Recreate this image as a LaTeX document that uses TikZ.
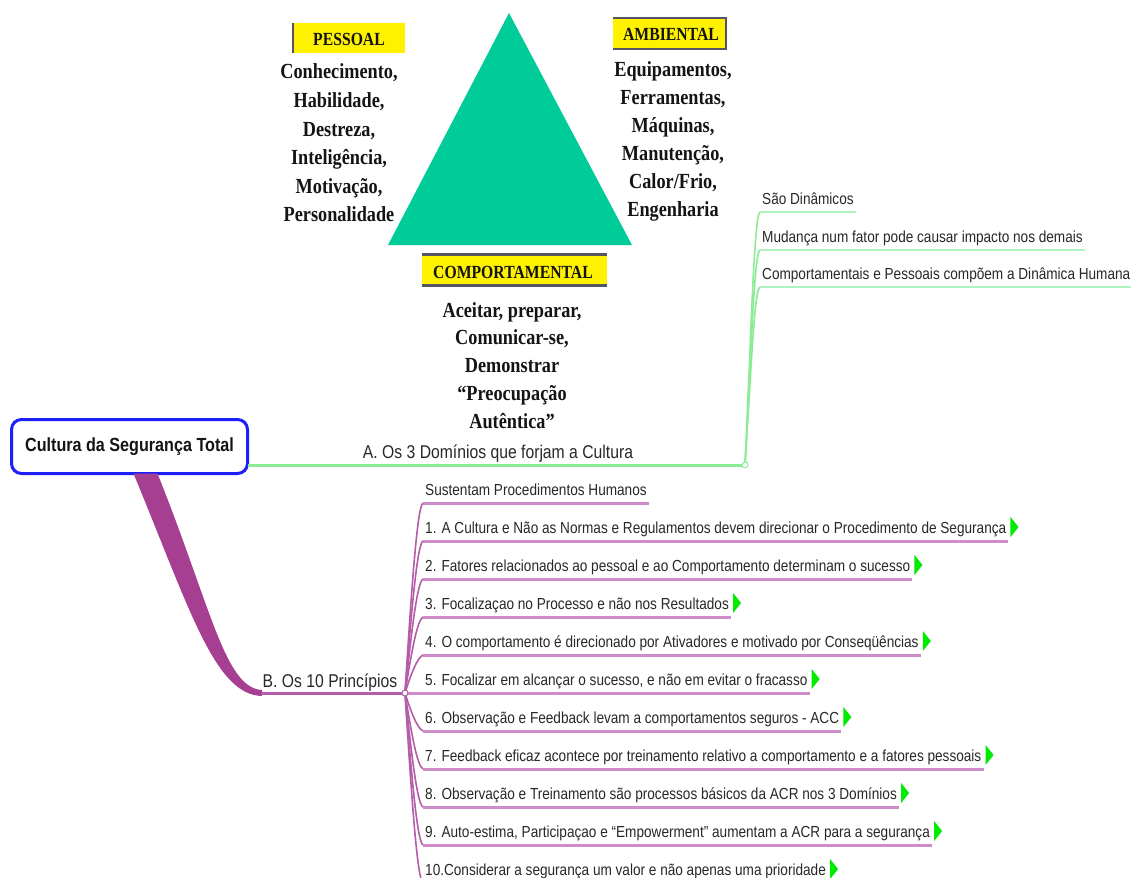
\documentclass[tikz,border=0pt]{standalone}
\usepackage{fontspec}
\newfontfamily\mapfont[FakeStretch=0.85]{Liberation Sans}
\newfontfamily\slidefont[FakeStretch=0.85]{Liberation Serif}
\usetikzlibrary{calc}

\definecolor{tri}{RGB}{0,204,153}
\definecolor{boxgray}{RGB}{85,85,100}
\definecolor{rootblue}{RGB}{30,30,250}
\definecolor{grline}{RGB}{140,236,150}
\definecolor{grsub}{RGB}{176,242,192}
\definecolor{pthick}{RGB}{166,62,146}
\definecolor{pmid}{RGB}{180,92,168}
\definecolor{pline}{RGB}{206,140,200}
\definecolor{tipgreen}{RGB}{0,235,0}
\definecolor{ink}{RGB}{20,20,20}
\definecolor{mapink}{RGB}{40,40,40}

\begin{document}
\begin{tikzpicture}[x=1pt,y=-1pt,
  domtext/.style={font=\slidefont\bfseries\fontsize{21.5}{26}\selectfont,
    inner sep=0pt, anchor=base, text=ink},
  domlabel/.style={font=\slidefont\bfseries\fontsize{18.5}{22}\selectfont,
    inner sep=0pt, anchor=base, text=ink},
  item/.style={font=\mapfont\fontsize{16}{19}\selectfont, text=mapink,
    anchor=south west, inner xsep=2pt, inner ysep=0pt,
    text height=12pt, text depth=7.5pt},
  branchlabel/.style={font=\mapfont\fontsize{18.5}{22}\selectfont,
    text=mapink, anchor=base, inner sep=0pt},
  rootbox/.style={draw=rootblue, line width=3pt, rounded corners=10pt,
    fill=white, minimum width=236pt, minimum height=54pt, outer sep=0pt,
    font=\mapfont\bfseries\fontsize{19}{22}\selectfont, text=ink},
  joint/.style={circle, inner sep=0pt, minimum size=6pt, line width=1pt, fill=white},
  purpleunder/.style={draw=pline, line width=3pt},
  purpletrunk/.style={draw=pmid, line width=1.6pt},
  greenunder/.style={draw=grsub, line width=2.5pt},
  greentrunk/.style={draw=grline, line width=1.6pt},
  tiptri/.style={fill=tipgreen},
]
\clip (0,0) rectangle (1131,877);
\fill[white] (0,0) rectangle (1131,877);

% ---------- the three domains ----------
\fill[tri] (509,13) -- (632,245) -- (388,245) -- cycle;

% PESSOAL tag
\fill[yellow] (292,23) rectangle (405,53);
\draw[boxgray, line width=2.5pt] (293,23) -- (293,53);
\node[domlabel] (lpes) at (349,46) {PESSOAL};

% AMBIENTAL tag
\fill[yellow] (613,17) rectangle (727,50);
\draw[boxgray, line width=2.5pt] (613,18) -- (726,18) -- (726,49) -- (613,49);
\node[domlabel] (lamb) at (671,41) {AMBIENTAL};

% COMPORTAMENTAL tag
\fill[yellow] (422,253) rectangle (607,287);
\draw[boxgray, line width=3pt] (422,254.5) -- (607,254.5);
\draw[boxgray, line width=3pt] (422,285.5) -- (607,285.5);
\node[domlabel] (lcom) at (513,278) {COMPORTAMENTAL};

\foreach \t [count=\i from 0] in {{Conhecimento,}, {Habilidade,}, {Destreza,},
    {Inteligência,}, {Motivação,}, {Personalidade}}
  \node[domtext] (pes\i) at (339,{79+28.6*\i}) {\t};
\foreach \t [count=\i from 0] in {{Equipamentos,}, {Ferramentas,}, {Máquinas,},
    {Manutenção,}, {Calor/Frio,}, {Engenharia}}
  \node[domtext] (amb\i) at (673,{77+28*\i}) {\t};
\foreach \t [count=\i from 0] in {{Aceitar, preparar,}, {Comunicar-se,},
    {Demonstrar}, {“Preocupação}, {Autêntica”}}
  \node[domtext] (com\i) at (512,{317+27.8*\i}) {\t};

% ---------- mind map ----------
\node[rootbox] (root) at (129.5,446.5) {Cultura da Segurança Total};

\coordinate (gj) at (745,465);
\coordinate (bj) at (405,693);

% branch A
\draw[draw=grline, line width=3pt] (root.east |- gj) -- (gj);
\node[branchlabel] (la) at (498,458) {A. Os 3 Domínios que forjam a Cultura};

\foreach \u/\t/\n in {212/{São Dinâmicos}/q1,
    250/{Mudança num fator pode causar impacto nos demais}/q2,
    287/{Comportamentais e Pessoais compõem a Dinâmica Humana}/q3} {
  \node[item] (\n) at (760,\u) {\t};
  \draw[greentrunk] (gj) .. controls (751,{(465+\u)/2}) and (754,\u+3) .. (\n.south west);
  \draw[greenunder] (\n.south west) -- (\n.south east);
}

% branch B
\fill[pthick] ([xshift=4pt]root.south) .. controls (190,610) and (215,695) .. (262,696)
  -- (262,690) .. controls (225,688) and (212,610) .. ([xshift=28pt]root.south) -- cycle;
\draw[draw=pmid, line width=3pt] (261,693) -- (bj);
\node[branchlabel] (lb) at (330,687) {B. Os 10 Princípios};

% items above the joint
\foreach \u/\t/\n in {503/{Sustentam Procedimentos Humanos}/p0,
    541/{1. A Cultura e Não as Normas e Regulamentos devem direcionar o Procedimento de Segurança}/p1,
    579/{2. Fatores relacionados ao pessoal e ao Comportamento determinam o sucesso}/p2,
    617/{3. Focalizaçao no Processo e não nos Resultados}/p3,
    655/{4. O comportamento é direcionado por Ativadores e motivado por Conseqüências}/p4} {
  \node[item] (\n) at (423,\u) {\t};
  \draw[purpletrunk] (bj) .. controls (411,{(693+\u)/2}) and (417,\u+3) .. (\n.south west);
  \draw[purpleunder] (\n.south west) -- (\n.south east);
}

% item level with the joint
\node[item] (p5) at (423,693) {5. Focalizar em alcançar o sucesso, e não em evitar o fracasso};
\draw[purpleunder] (bj) -- (p5.south west) -- (p5.south east);

% items below the joint
\foreach \u/\t/\n in {731/{6. Observação e Feedback levam a comportamentos seguros - ACC}/p6,
    769/{7. Feedback eficaz acontece por treinamento relativo a comportamento e a fatores pessoais}/p7,
    807/{8. Observação e Treinamento são processos básicos da ACR nos 3 Domínios}/p8,
    845/{9. Auto-estima, Participaçao e “Empowerment” aumentam a ACR para a segurança}/p9,
    883/{10.Considerar a segurança um valor e não apenas uma prioridade}/p10} {
  \node[item] (\n) at (423,\u) {\t};
  \draw[purpletrunk] (bj) .. controls (411,{(693+\u)/2}) and (417,\u-3) .. (\n.south west);
  \draw[purpleunder] (\n.south west) -- (\n.south east);
}

% green markers after the numbered items
\foreach \n in {p1,p2,p3,p4,p5,p6,p7,p8,p9,p10}
  \fill[tiptri] ([xshift=2pt]\n.south east) ++(0,-4) -- ++(0,-20) -- ++(8,10) -- cycle;

% joints
\node[joint, draw=grline] (g) at (gj) {};
\node[joint, draw=pmid] (b) at (bj) {};
\end{tikzpicture}
\end{document}
